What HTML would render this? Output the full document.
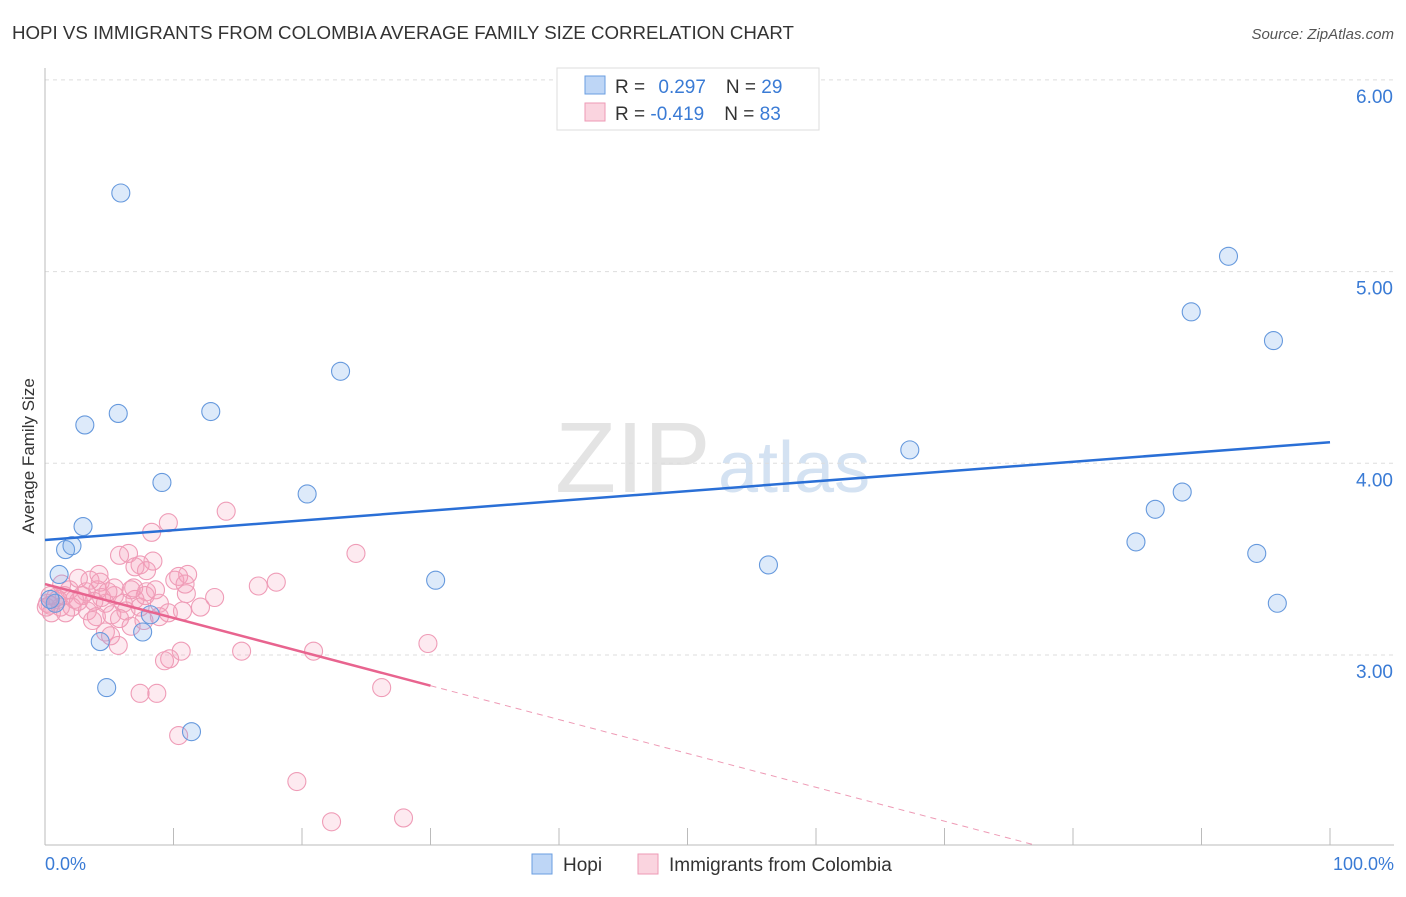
<!DOCTYPE html>
<html><head><meta charset="utf-8"><style>
body{margin:0;background:#fff;font-family:"Liberation Sans",sans-serif}
svg text{font-family:"Liberation Sans",sans-serif}
</style></head><body>
<svg width="1406" height="892" viewBox="0 0 1406 892" xmlns="http://www.w3.org/2000/svg">
<text x="12" y="39" font-size="18" fill="#333" textLength="782" lengthAdjust="spacingAndGlyphs">HOPI VS IMMIGRANTS FROM COLOMBIA AVERAGE FAMILY SIZE CORRELATION CHART</text>
<text x="1394" y="39" font-size="15" fill="#555" font-style="italic" text-anchor="end">Source: ZipAtlas.com</text>
<text x="555" y="492" font-size="100" fill="#e4e4e4" font-family="Liberation Serif">ZIP</text>
<text x="718" y="492" font-size="72" fill="#d4e2f2">atlas</text>
<g id="grid"></g>
<g id="axes"></g>
<g id="pts"></g>
<g id="lines"></g>
<text transform="translate(34,456) rotate(-90)" font-size="17" fill="#333" text-anchor="middle">Average Family Size</text>
<text x="45" y="870" font-size="18" fill="#3a7bd5">0.0%</text>
<text x="1394" y="870" font-size="18" fill="#3a7bd5" text-anchor="end">100.0%</text>
<g>
<rect x="557" y="68" width="262" height="62" fill="#fff" stroke="#ddd"/>
<rect x="585" y="76" width="20" height="18" fill="rgba(110,165,235,0.45)" stroke="#6a9ee0"/>
<rect x="585" y="103" width="20" height="18" fill="rgba(245,160,185,0.45)" stroke="#ee9ab5"/>
<text x="615" y="93" font-size="19" fill="#333">R = <tspan fill="#3a7bd5" dx="8">0.297</tspan><tspan dx="20" fill="#333">N = </tspan><tspan fill="#3a7bd5">29</tspan></text>
<text x="615" y="120" font-size="19" fill="#333">R = <tspan fill="#3a7bd5">-0.419</tspan><tspan dx="20" fill="#333">N = </tspan><tspan fill="#3a7bd5">83</tspan></text>
</g>
<g>
<rect x="532" y="854" width="20" height="20" fill="rgba(110,165,235,0.45)" stroke="#6a9ee0"/>
<text x="563" y="871" font-size="19" fill="#333">Hopi</text>
<rect x="638" y="854" width="20" height="20" fill="rgba(245,160,185,0.45)" stroke="#ee9ab5"/>
<text x="669" y="871" font-size="19" fill="#333">Immigrants from Colombia</text>
</g>
</svg>
<script>
const yTicks=[3,4,5,6];
const yTickLabels=["3.00","4.00","5.00","6.00"];
const xTicks=[0,10,20,30,40,50,60,70,80,90,100];
const hopiX=[5.9,3.1,5.7,12.9,23.0,9.1,20.4,2.96,1.6,2.1,1.1,0.8,8.2,7.6,4.3,4.8,11.4,30.4,56.3,67.3,92.1,89.2,95.6,88.5,86.4,84.9,94.3,95.9,0.4];
const hopiY=[5.41,4.20,4.26,4.27,4.48,3.90,3.84,3.67,3.55,3.57,3.42,3.27,3.21,3.12,3.07,2.83,2.60,3.39,3.47,4.07,5.08,4.79,4.64,3.85,3.76,3.59,3.53,3.27,3.29];
const colX=[14.1,9.6,8.3,6.5,5.8,8.4,7.4,7.9,10.1,11.1,10.4,7.0,24.2,16.6,18.0,13.2,11.0,29.8,26.2,20.9,15.3,10.6,9.7,9.3,7.4,8.7,10.4,19.6,22.3,27.9,5.7,4.7,6.7,12.1,10.7,8.9,9.6,7.9,6.1,5.4,4.7,4.1,3.5,1.9,2.6,1.3,0.8,0.4,0.5,1.0,1.5,2.3,2.9,3.3,4.0,5.2,6.3,7.0,4.2,5.4,6.9,8.6,4.3,4.9,7.7,5.8,3.7,3.2,2.1,0.2,1.6,5.1,7.4,8.9,10.9,7.8,6.7,0.1,1.2,2.6,4.4,3.8,0.4];
const colY=[3.75,3.69,3.64,3.53,3.52,3.49,3.47,3.44,3.39,3.42,3.41,3.46,3.53,3.36,3.38,3.30,3.32,3.06,2.83,3.02,3.02,3.02,2.98,2.97,2.80,2.80,2.58,2.34,2.13,2.15,3.05,3.12,3.15,3.25,3.23,3.20,3.22,3.33,3.27,3.31,3.27,3.34,3.39,3.34,3.40,3.37,3.30,3.26,3.22,3.29,3.31,3.29,3.31,3.23,3.20,3.21,3.23,3.29,3.42,3.35,3.35,3.34,3.38,3.33,3.18,3.19,3.18,3.33,3.25,3.27,3.22,3.10,3.25,3.27,3.37,3.31,3.34,3.25,3.25,3.28,3.30,3.28,3.31];
const hopiTrend=[3.60,4.11];
const colTrend=[3.37,-0.01767];
const NS="http://www.w3.org/2000/svg";
const X0=45,X1=1330,YB=845,YT=68;
function sx(p){return X0+p*(X1-X0)/100;}
function sy(v){return 655-(v-3)*191.7;}
function mk(t,a,parent){const e=document.createElementNS(NS,t);for(const k in a)e.setAttribute(k,a[k]);document.getElementById(parent).appendChild(e);return e;}
yTicks.forEach((v,i)=>{
 const g=mk('line',{x1:X0,x2:1394,y1:sy(v),y2:sy(v),stroke:'#ddd','stroke-dasharray':'4,4'},'grid');
 
 
 const t=mk('text',{x:1393,y:sy(v)+23,'font-size':19,fill:'#3a7bd5','text-anchor':'end'},'grid');
 t.textContent=yTickLabels[i];
 
 
});
const ya=mk('line',{x1:X0,x2:X0,y1:YT,y2:YB,stroke:'#bbb'},'axes');


const xa=mk('line',{x1:X0,x2:1394,y1:YB,y2:YB,stroke:'#bbb'},'axes');


xTicks.forEach(p=>{
 const t=mk('line',{x1:sx(p),x2:sx(p),y1:828,y2:YB,stroke:'#bbb'},'axes');
 
 
});
colX.forEach((p,i)=>{
 const c=mk('circle',{cx:sx(p),cy:sy(colY[i]),r:9,fill:'rgba(245,160,185,0.22)',stroke:'#ef9cb7','stroke-width':1.1},'pts');
 
 
});
hopiX.forEach((p,i)=>{
 const c=mk('circle',{cx:sx(p),cy:sy(hopiY[i]),r:9,fill:'rgba(120,170,235,0.25)',stroke:'#6699dd','stroke-width':1.1},'pts');
 
 
});
const hl=mk('line',{x1:sx(0),y1:sy(hopiTrend[0]),x2:sx(100),y2:sy(hopiTrend[1]),stroke:'#2a6fd6','stroke-width':2.5},'lines');


const cv=p=>colTrend[0]+colTrend[1]*p;
const cl=mk('line',{x1:sx(0),y1:sy(cv(0)),x2:sx(30),y2:sy(cv(30)),stroke:'#e8648f','stroke-width':2.5},'lines');


const pend=(2.009-colTrend[0])/colTrend[1];
const cd=mk('line',{x1:sx(30),y1:sy(cv(30)),x2:sx(pend),y2:sy(cv(pend)),stroke:'#ee9ab5','stroke-width':1,'stroke-dasharray':'6,5'},'lines');


</script>
</body></html>
